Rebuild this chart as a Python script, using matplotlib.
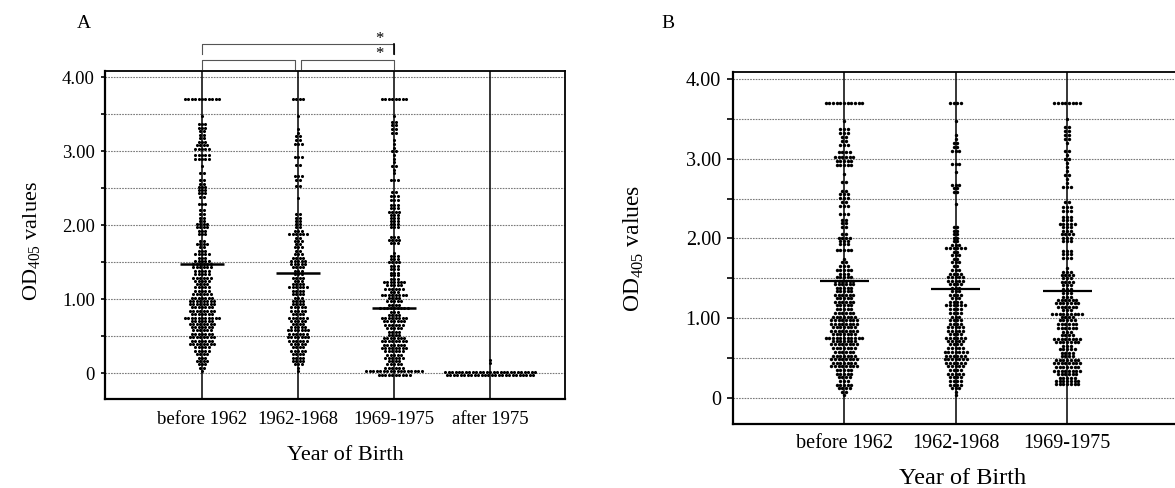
import numpy as np
import matplotlib.pyplot as plt
from matplotlib.ticker import MultipleLocator

plt.rcParams['font.family'] = ['Liberation Serif', 'DejaVu Serif']
plt.rcParams['mathtext.fontset'] = 'custom'
plt.rcParams['mathtext.rm'] = 'Liberation Serif'

groups_a = ["before 1962", "1962-1968", "1969-1975", "after 1975"]
groups_b = ["before 1962", "1962-1968", "1969-1975"]

# each dot-plot column: OD405 level of a row and number of dots in that row
a_before62_od = [0.03, 0.07, 0.12, 0.16, 0.21, 0.26, 0.30, 0.35, 0.40, 0.44,
                 0.49, 0.53, 0.58, 0.62, 0.67, 0.71, 0.75, 0.80, 0.84, 0.89,
                 0.93, 0.98, 1.02, 1.07, 1.11, 1.16, 1.20, 1.25, 1.29, 1.34,
                 1.38, 1.43, 1.47, 1.52, 1.56, 1.61, 1.65, 1.70, 1.74, 1.79,
                 1.88, 1.92, 1.97, 2.01, 2.06, 2.10, 2.15, 2.20, 2.28, 2.38,
                 2.43, 2.47, 2.52, 2.56, 2.61, 2.70, 2.80, 2.90, 2.95, 3.03,
                 3.08, 3.13, 3.18, 3.22, 3.27, 3.32, 3.37, 3.48, 3.70]
a_before62_n = [1, 2, 3, 4, 3, 4, 5, 5, 8, 7,
                8, 7, 6, 7, 8, 7, 11, 7, 8, 7,
                8, 8, 7, 6, 5, 5, 4, 5, 6, 5,
                5, 6, 6, 5, 3, 5, 3, 2, 4, 2,
                3, 3, 4, 4, 2, 2, 2, 2, 3, 2,
                3, 3, 3, 2, 2, 2, 1, 5, 5, 5,
                4, 3, 2, 2, 2, 3, 3, 1, 11]

a_62_68_od = [0.03, 0.07, 0.12, 0.16, 0.21, 0.26, 0.30, 0.35, 0.40, 0.44,
              0.49, 0.53, 0.58, 0.62, 0.67, 0.71, 0.75, 0.80, 0.84, 0.89,
              0.93, 0.98, 1.02, 1.07, 1.11, 1.16, 1.20, 1.25, 1.29, 1.34,
              1.38, 1.43, 1.47, 1.52, 1.56, 1.61, 1.65, 1.70, 1.74, 1.79,
              1.83, 1.88, 1.92, 1.97, 2.01, 2.06, 2.10, 2.15, 2.37, 2.53,
              2.61, 2.67, 2.82, 2.92, 3.10, 3.15, 3.20, 3.25, 3.30, 3.48, 3.70]
a_62_68_n = [1, 1, 3, 4, 4, 4, 5, 4, 5, 6,
             7, 6, 7, 5, 4, 5, 6, 4, 5, 5,
             4, 4, 3, 4, 4, 6, 4, 3, 4, 3,
             3, 4, 5, 5, 4, 3, 2, 3, 2, 3,
             2, 6, 3, 2, 2, 2, 2, 2, 1, 2,
             2, 3, 2, 3, 3, 2, 2, 1, 1, 1, 4]

a_69_75_od = [-0.02, 0.03, 0.07, 0.12, 0.16, 0.21, 0.25, 0.30, 0.34, 0.38,
              0.43, 0.47, 0.52, 0.56, 0.61, 0.65, 0.70, 0.74, 0.79, 0.83,
              0.88, 0.92, 0.97, 1.01, 1.05, 1.10, 1.14, 1.19, 1.23, 1.27,
              1.32, 1.36, 1.41, 1.45, 1.50, 1.54, 1.58, 1.63, 1.76, 1.80,
              1.84, 1.97, 2.01, 2.05, 2.10, 2.14, 2.18, 2.23, 2.27, 2.34,
              2.39, 2.45, 2.61, 2.70, 2.75, 2.80, 2.85, 2.90, 2.95, 3.00,
              3.05, 3.10, 3.15, 3.25, 3.30, 3.35, 3.40, 3.48, 3.70]
a_69_75_n = [10, 17, 6, 5, 4, 6, 5, 6, 8, 7,
             8, 7, 4, 4, 5, 6, 7, 8, 4, 3,
             9, 4, 5, 4, 8, 3, 6, 5, 7, 3,
             3, 3, 3, 3, 4, 3, 3, 1, 3, 4,
             3, 3, 3, 3, 3, 3, 4, 3, 3, 3,
             3, 2, 3, 1, 1, 2, 1, 1, 1, 2,
             1, 1, 1, 2, 2, 2, 2, 1, 8]

a_after75_od = [-0.02, 0.02, 0.14, 0.18]
a_after75_n = [26, 27, 1, 1]

b_before62_od = [0.03, 0.07, 0.12, 0.16, 0.21, 0.26, 0.30, 0.35, 0.40, 0.44,
                 0.49, 0.53, 0.58, 0.62, 0.67, 0.71, 0.75, 0.80, 0.84, 0.89,
                 0.93, 0.98, 1.02, 1.07, 1.11, 1.16, 1.20, 1.25, 1.29, 1.34,
                 1.38, 1.43, 1.47, 1.52, 1.56, 1.61, 1.65, 1.70, 1.74, 1.85,
                 1.93, 1.97, 2.01, 2.06, 2.14, 2.19, 2.23, 2.31, 2.41, 2.46,
                 2.51, 2.56, 2.60, 2.71, 2.81, 2.92, 2.97, 3.02, 3.08, 3.17,
                 3.22, 3.27, 3.32, 3.38, 3.48, 3.70]
b_before62_n = [1, 2, 4, 5, 3, 4, 5, 5, 8, 7,
                8, 7, 6, 7, 8, 7, 11, 7, 8, 7,
                8, 8, 7, 6, 5, 5, 6, 5, 6, 5,
                5, 6, 6, 5, 3, 5, 3, 2, 1, 5,
                3, 3, 4, 2, 2, 2, 2, 3, 3, 2,
                3, 3, 2, 2, 1, 5, 5, 6, 4, 3,
                2, 2, 3, 3, 1, 11]

b_62_68_od = [0.03, 0.07, 0.12, 0.16, 0.21, 0.26, 0.30, 0.35, 0.40, 0.44,
              0.49, 0.53, 0.58, 0.62, 0.67, 0.71, 0.75, 0.80, 0.84, 0.89,
              0.93, 0.98, 1.02, 1.07, 1.11, 1.16, 1.20, 1.25, 1.29, 1.34,
              1.38, 1.43, 1.47, 1.52, 1.56, 1.61, 1.65, 1.70, 1.74, 1.79,
              1.83, 1.88, 1.92, 1.97, 2.01, 2.06, 2.10, 2.15, 2.43, 2.58,
              2.63, 2.67, 2.83, 2.93, 3.10, 3.15, 3.20, 3.25, 3.30, 3.48, 3.70]
b_62_68_n = [1, 1, 3, 4, 4, 4, 5, 4, 5, 6,
             7, 6, 7, 5, 4, 5, 6, 4, 5, 5,
             4, 4, 3, 4, 4, 6, 4, 3, 4, 3,
             3, 4, 5, 5, 4, 3, 2, 3, 2, 3,
             2, 6, 3, 2, 2, 2, 2, 2, 1, 2,
             2, 3, 1, 3, 3, 2, 2, 1, 1, 1, 4]

b_69_75_od = [0.17, 0.21, 0.25, 0.30, 0.34, 0.38, 0.43, 0.47, 0.52, 0.56,
              0.61, 0.65, 0.70, 0.74, 0.79, 0.83, 0.88, 0.92, 0.97, 1.01,
              1.05, 1.10, 1.14, 1.19, 1.23, 1.27, 1.32, 1.36, 1.41, 1.45,
              1.50, 1.54, 1.58, 1.63, 1.76, 1.80, 1.84, 1.97, 2.01, 2.05,
              2.10, 2.14, 2.18, 2.23, 2.27, 2.34, 2.39, 2.46, 2.65, 2.70,
              2.75, 2.80, 2.85, 2.90, 2.95, 3.00, 3.05, 3.10, 3.20, 3.25,
              3.30, 3.35, 3.40, 3.50, 3.70]
b_69_75_n = [7, 7, 5, 6, 8, 7, 8, 7, 4, 4,
             5, 3, 7, 8, 4, 3, 6, 6, 5, 4,
             9, 3, 6, 7, 6, 3, 3, 3, 3, 4,
             3, 4, 3, 1, 3, 3, 3, 3, 3, 4,
             3, 3, 5, 3, 3, 3, 3, 2, 3, 1,
             1, 2, 1, 1, 1, 2, 1, 2, 1, 2,
             2, 2, 2, 1, 8]

means_a = [1.47, 1.36, 0.88]
means_b = [1.46, 1.37, 1.34]

cols_a = [(a_before62_od, a_before62_n), (a_62_68_od, a_62_68_n),
          (a_69_75_od, a_69_75_n), (a_after75_od, a_after75_n)]
cols_b = [(b_before62_od, b_before62_n), (b_62_68_od, b_62_68_n),
          (b_69_75_od, b_69_75_n)]


def dot_column(ax, xpos, vals, counts, dx, s):
    xs, ys = [], []
    for v, n in zip(vals, counts):
        for i in range(n):
            xs.append(xpos + (i - (n - 1) / 2) * dx)
            ys.append(v)
    ax.scatter(xs, ys, s=s, c='black', marker='o', linewidths=0, zorder=4)


def style_axes(ax, labels, tick_fs, pad_x, tick_len):
    ax.set_xticks(range(len(labels)))
    ax.set_xticklabels(labels, fontsize=tick_fs)
    ax.tick_params(axis='x', length=0, pad=pad_x)
    ax.set_yticks([0, 1, 2, 3, 4])
    ax.set_yticklabels(["0", "1.00", "2.00", "3.00", "4.00"], fontsize=tick_fs)
    ax.yaxis.set_minor_locator(MultipleLocator(0.5))
    ax.tick_params(axis='y', which='both', direction='out', length=tick_len,
                   width=1.2, pad=4.5)
    for yv in np.arange(0, 4.01, 0.5):
        ax.axhline(yv, color='#7a7a7a', lw=0.8, ls=(0, (1.5, 1.0)), zorder=1)
    for i in range(len(labels)):
        ax.axvline(i, color='black', lw=1.1, zorder=2)
    for side in ['left', 'bottom']:
        ax.spines[side].set_linewidth(1.6)
    ax.spines['top'].set_linewidth(1.3)
    ax.spines['right'].set_linewidth(1.3)


fig = plt.figure(figsize=(11.75, 4.88), dpi=100)

# panel A
axa = fig.add_axes([0.0894, 0.1824, 0.3915, 0.6721])
axa.set_xlim(-1.01, 3.78)
axa.set_ylim(-0.35, 4.085)
style_axes(axa, groups_a, 13.5, 9, 2.8)
for i, (vals, counts) in enumerate(cols_a):
    dot_column(axa, i, vals, counts, 0.036, 5.0)
for i, m in enumerate(means_a):
    axa.hlines(m, i - 0.23, i + 0.23, color='black', lw=1.8, zorder=5)

# significance brackets
br = dict(color='#555555', lw=0.8, clip_on=False)
axa.plot([0, 0, 2, 2], [4.31, 4.455, 4.455, 4.31], **br)
axa.plot([2, 2], [4.31, 4.455], color='black', lw=1.2, clip_on=False)
axa.plot([0, 0, 0.97, 0.97], [4.11, 4.23, 4.23, 4.11], **br)
axa.plot([1.03, 1.03, 2, 2], [4.11, 4.23, 4.23, 4.11], **br)
axa.text(1.85, 4.52, "*", ha='center', va='center', fontsize=12)
axa.text(1.85, 4.31, "*", ha='center', va='center', fontsize=12)

# panel B
axb = fig.add_axes([0.6238, 0.1311, 0.3974, 0.7213])
axb.set_xlim(-0.996, 3.19)
axb.set_ylim(-0.33, 4.09)
style_axes(axb, groups_b, 14.5, 7, 4.2)
for i, (vals, counts) in enumerate(cols_b):
    dot_column(axb, i, vals, counts, 0.033, 6.0)
for i, m in enumerate(means_b):
    axb.hlines(m, i - 0.22, i + 0.22, color='black', lw=1.6, zorder=5)

fig.text(84 / 1175, 1 - 23 / 488, "A", ha='center', va='center', fontsize=14)
fig.text(668 / 1175, 1 - 23 / 488, "B", ha='center', va='center', fontsize=14)
fig.text(32 / 1175, 1 - 241 / 488, r"OD$_{\mathrm{405}}$ values", rotation=90,
         ha='center', va='center', fontsize=16)
fig.text(634 / 1175, 1 - 248 / 488, r"OD$_{\mathrm{405}}$ values", rotation=90,
         ha='center', va='center', fontsize=17)
fig.text(345 / 1175, 1 - 455 / 488, "Year of Birth", ha='center', va='center',
         fontsize=16)
fig.text(963 / 1175, 1 - 478 / 488, "Year of Birth", ha='center', va='center',
         fontsize=17.5)

plt.savefig("out.png", dpi=100)
